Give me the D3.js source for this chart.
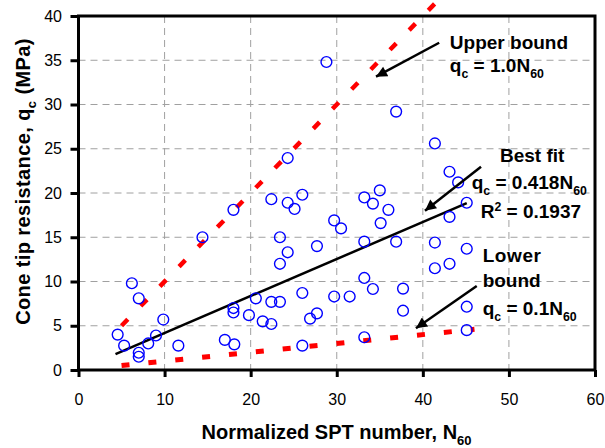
<!DOCTYPE html>
<html><head><meta charset="utf-8">
<script src="https://cdn.jsdelivr.net/npm/d3@7"></script>
<style>
html,body{margin:0;padding:0;background:#fff;}
svg{display:block;font-family:Arial,"Liberation Sans",sans-serif;}
</style></head>
<body><svg id="c" width="605" height="448"></svg>
<script>
// Data: normalized SPT number N60 and cone tip resistance qc (MPa)
const n60 = [28.8,36.9,41.4,24.3,43.1,44.1,35.0,22.4,26.0,33.2,24.3,25.1,18.0,34.2,36.0,45.1,43.1,29.7,30.5,35.1,
  14.4,23.4,27.7,33.2,36.9,41.4,45.1,24.3,23.4,41.4,43.1,33.2,6.2,34.2,37.7,7.0,20.6,22.4,23.4,26.0,
  29.7,31.5,18.0,18.0,9.85,19.8,21.4,22.4,26.9,27.7,37.7,45.1,4.55,5.3,8.1,9.0,7.0,7.0,11.6,17.0,
  18.1,26.0,33.2,45.1];
const qc = [34.8,29.2,25.6,23.95,22.4,21.2,20.3,19.3,19.8,19.5,18.9,18.2,18.1,18.8,18.1,18.9,17.3,16.9,16.0,16.6,
  15.0,15.0,14.0,14.5,14.5,14.4,13.7,13.3,12.0,11.5,12.0,10.4,9.8,9.15,9.2,8.1,8.1,7.7,7.7,8.7,
  8.3,8.3,7.0,6.5,5.7,6.2,5.5,5.2,5.8,6.4,6.7,7.15,4.0,2.75,3.0,3.9,1.95,1.5,2.75,3.4,
  2.9,2.75,3.7,4.5];
const xTicks = [0,10,20,30,40,50,60];
const yTicks = [0,5,10,15,20,25,30,35,40];
// Relations: qc = k * N60 over N60 range
const upperK = 1.0, upperRange = [5, 41.5];
const fitK = 0.418, fitRange = [4.3, 45.1];
const lowerK = 0.1, lowerRange = [5, 46];

const svg = d3.select("#c");
const L = 78.5, R = 595, T = 16, B = 370;
const x = d3.scaleLinear().domain([0,60]).range([L,R]);
const y = d3.scaleLinear().domain([0,40]).range([B,T]);

// grid
const g = svg.append("g");
g.selectAll("line.v").data(xTicks.filter(d=>d>0&&d<60)).join("line")
  .attr("x1",d=>x(d)).attr("x2",d=>x(d)).attr("y1",T).attr("y2",B)
  .attr("stroke","#a0a0a0").attr("stroke-width",1).attr("stroke-dasharray","7,5");
g.selectAll("line.h").data(yTicks.filter(d=>d>0&&d<40)).join("line")
  .attr("y1",d=>y(d)).attr("y2",d=>y(d)).attr("x1",L).attr("x2",R)
  .attr("stroke","#a0a0a0").attr("stroke-width",1).attr("stroke-dasharray","7,5");

// axes
const xa = svg.append("g").attr("transform",`translate(0,${B})`)
  .call(d3.axisBottom(x).tickValues(xTicks).tickSize(7).tickSizeOuter(0).tickPadding(17));
const ya = svg.append("g").attr("transform",`translate(${L},0)`)
  .call(d3.axisLeft(y).tickValues(yTicks).tickSize(8).tickSizeOuter(0).tickPadding(8.5));
[xa,ya].forEach(a=>{
  a.select(".domain").remove();
  a.selectAll(".tick line").attr("stroke","#000").attr("stroke-width",3);
  a.selectAll(".tick text").attr("font-size",16).attr("fill","#000")
    .attr("font-family","Arial, 'Liberation Sans', sans-serif");
});

// lines
const line = d3.line().x(d=>x(d[0])).y(d=>y(d[1]));
svg.append("path").attr("d",line(upperRange.map(n=>[n,upperK*n])))
  .attr("stroke","#ff0000").attr("stroke-width",4.5).attr("fill","none").attr("stroke-dasharray","9,18.5");
svg.append("path").attr("d",line(lowerRange.map(n=>[n,lowerK*n])))
  .attr("stroke","#ff0000").attr("stroke-width",5).attr("fill","none").attr("stroke-dasharray","8,19");
svg.append("path").attr("d",line(fitRange.map(n=>[n,fitK*n])))
  .attr("stroke","#000").attr("stroke-width",2.5).attr("fill","none");

// points
svg.append("g").selectAll("circle").data(n60.map((n,i)=>[n,qc[i]])).join("circle")
  .attr("cx",d=>x(d[0])).attr("cy",d=>y(d[1])).attr("r",5.4)
  .attr("fill","none").attr("stroke","#0000ff").attr("stroke-width",1.4);

// frame
svg.append("rect").attr("x",L).attr("y",T).attr("width",R-L).attr("height",B-T)
  .attr("fill","none").attr("stroke","#000").attr("stroke-width",3);

// arrows
const defs = svg.append("defs");
defs.append("marker").attr("id","ah").attr("viewBox","0 0 10 10").attr("refX",10).attr("refY",5)
  .attr("markerWidth",14).attr("markerHeight",11).attr("markerUnits","userSpaceOnUse").attr("orient","auto")
  .append("path").attr("d","M0,0L10,5L0,10z").attr("fill","#000");
const arrows = [[[41.9,36.98],[34.56,33.14]],[[46.76,22.97],[40.25,18.0]],[[46.26,9.49],[39.2,4.71]]];
svg.append("g").selectAll("path").data(arrows).join("path")
  .attr("d",d=>line(d)).attr("stroke","#000").attr("stroke-width",2.5).attr("fill","none")
  .attr("marker-end","url(#ah)");

// annotation text: parts are [text, shift] with shift 'sub', 'sup' or none
function txt(n,q,parts,size){
  const t = svg.append("text").attr("x",x(n)).attr("y",y(q)).attr("font-size",size||19)
    .attr("font-weight","bold").attr("fill","#000");
  let prev = 0; // current baseline offset in px
  const fs = size||19;
  parts.forEach(p=>{
    let off = 0, sz = null, s = p;
    if(typeof p==="object"){ s = p.t; if(p.sub){off = 0.3*fs; sz="0.65em";} if(p.sup){off=-0.36*fs; sz="0.65em";} }
    const ts = t.append("tspan").text(s);
    if(sz) ts.attr("font-size",sz);
    if(off!==prev) ts.attr("dy",off-prev);
    prev = off;
  });
  return t;
}
txt(43.14,36.27,["Upper bound"]);
txt(43.14,33.67,["q",{t:"c",sub:1},"\u00a0= 1.0N",{t:"60",sub:1}]);
txt(48.96,23.54,["Best fit"]);
txt(45.68,20.42,["q",{t:"c",sub:1},"\u00a0= 0.418N",{t:"60",sub:1}]);
txt(46.72,17.14,["R",{t:"2",sup:1},"\u00a0= 0.1937"]);
txt(46.95,12.24,["Lower"]).attr("letter-spacing",0.6);
txt(46.95,9.41,["bound"]);
txt(46.95,6.21,["q",{t:"c",sub:1},"\u00a0= 0.1N",{t:"60",sub:1}]);

// axis titles
const xt = svg.append("text").attr("x",201.5).attr("y",439).attr("font-size",20).attr("font-weight","bold");
xt.append("tspan").text("Normalized SPT number, N");
xt.append("tspan").attr("font-size","0.65em").attr("dy",6).text("60");
const yt = svg.append("text").attr("transform","translate(30,181.5) rotate(-90)").attr("text-anchor","middle")
  .attr("font-size",20).attr("font-weight","bold").attr("letter-spacing",0.4);
yt.append("tspan").text("Cone tip resistance, q");
yt.append("tspan").attr("font-size","0.65em").attr("dy",6).text("c");
yt.append("tspan").attr("dy",-6).text("\u00a0(MPa)");
</script></body></html>
